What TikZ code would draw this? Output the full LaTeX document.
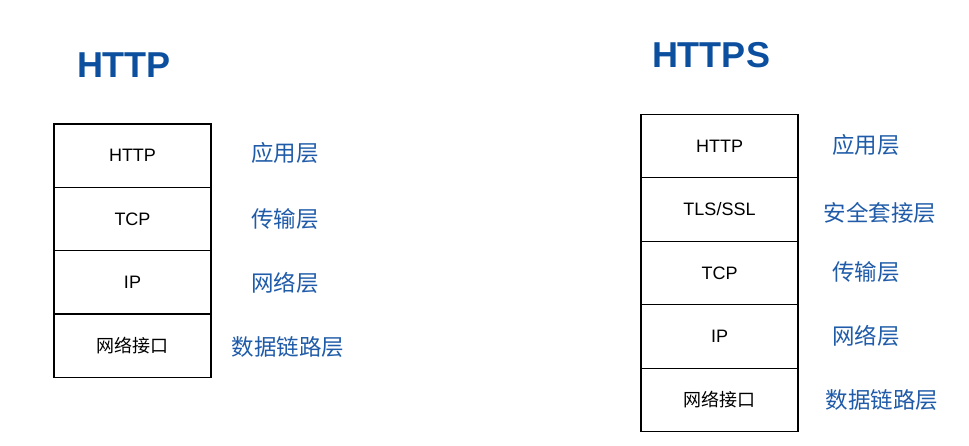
\documentclass[tikz,border=0pt]{standalone}
\usepackage{fontspec}
\setmainfont{Liberation Sans}
\newfontfamily\cjk{Noto Sans CJK SC}
\usepackage{xcolor}
\definecolor{titleblue}{HTML}{0B4F9E}
\definecolor{layerblue}{HTML}{1F5BA8}

\begin{document}
\begin{tikzpicture}[x=1pt,y=-1pt,
    layer/.style={draw,line width=1.2pt,minimum width=157pt,minimum height=63.4pt,
        font=\fontsize{18}{20}\selectfont},
    title/.style={text=titleblue,font=\fontsize{36}{38}\selectfont\bfseries},
    tag/.style={text=layerblue,font=\fontsize{22.5}{24}\selectfont\cjk}]
\useasboundingbox (0,0) rectangle (969,445);
% HTTP
\node [title] (httptitle) at (124,65) {HTTP};
\path
    (132.5,155.6) node [layer] (lhttp) {HTTP}
    +(0,63.3) node [layer] (ltcp) {TCP}
    +(0,126.6) node [layer] (lip) {IP}
    +(0,189.9) node [layer] (lnet) {\cjk 网络接口};
\node [tag] (lapp) at (285,153) {应用层};
\node [tag] (ltrans) at (285,219) {传输层};
\node [tag] (lnetw) at (285,283) {网络层};
\node [tag] (llink) at (288,347) {数据链路层};
% HTTPS
\node [title] (httpstitle) at (711,55) {HTTPS};
\path
    (719.5,146) node [layer] (rhttp) {HTTP}
    +(0,63.5) node [layer] (rtls) {TLS/SSL}
    +(0,127) node [layer] (rtcp) {TCP}
    +(0,190.5) node [layer] (rip) {IP}
    +(0,254) node [layer] (rnet) {\cjk 网络接口};
\node [tag] (rapp) at (866,145) {应用层};
\node [tag] (rsec) at (880,213) {安全套接层};
\node [tag] (rtrans) at (866,272) {传输层};
\node [tag] (rnetw) at (866,336) {网络层};
\node [tag] (rlink) at (882,400) {数据链路层};
\end{tikzpicture}
\end{document}
